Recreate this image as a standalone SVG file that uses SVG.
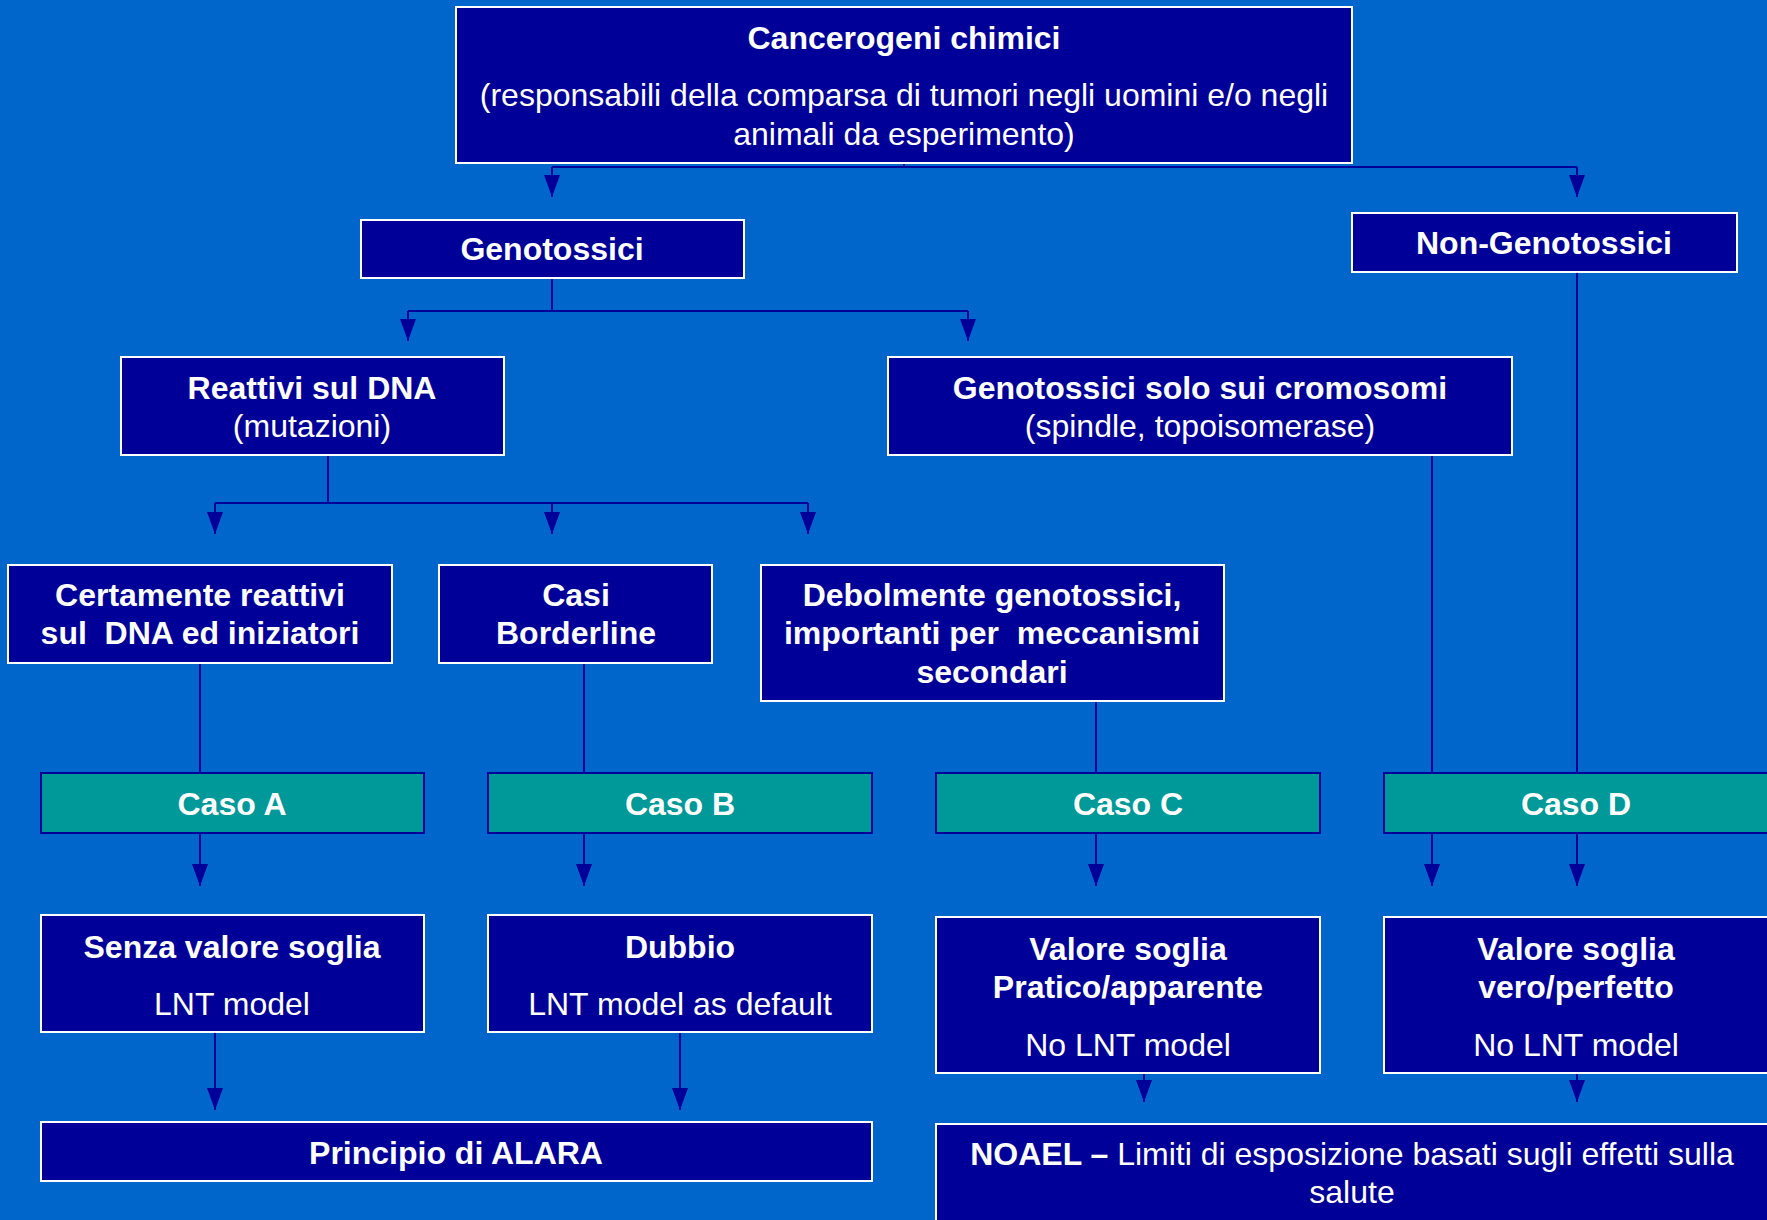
<svg xmlns="http://www.w3.org/2000/svg" width="1767" height="1220" viewBox="0 0 1767 1220">
<defs>
<marker id="ah" markerUnits="userSpaceOnUse" markerWidth="22" markerHeight="16" refX="22" refY="8" orient="auto"><path d="M0,0 L22,8 L0,16 z" fill="#000099"/></marker>
<style>
.bg{fill:#0066CC}
.box{fill:#000099;stroke:#FFFFFF;stroke-width:2}
.case{fill:#009999;stroke:#000099;stroke-width:2}
.t{font-family:"Liberation Sans",Arial,sans-serif;font-size:32px;fill:#FFFFFF;text-anchor:middle}
.b{font-weight:bold}
.c{fill:none;stroke:#000099;stroke-width:2}
.a{fill:none;stroke:#000099;stroke-width:2;marker-end:url(#ah)}
</style>
</defs>
<rect class="bg" x="0" y="0" width="1767" height="1220"/>
<g id="connectors">
<path class="c" d="M904,163 V167 M552,167 H1577"/>
<path class="a" d="M552,167 V197"/>
<path class="a" d="M1577,167 V197"/>
<path class="c" d="M552,278 V311 M408,311 H968"/>
<path class="a" d="M408,311 V341"/>
<path class="a" d="M968,311 V341"/>
<path class="c" d="M328,455 V503 M215,503 H808"/>
<path class="a" d="M215,503 V534"/>
<path class="a" d="M552,503 V534"/>
<path class="a" d="M808,503 V534"/>
<path class="c" d="M200,663 V773 M584,663 V773 M1096,701 V773 M1432,455 V773 M1577,272 V773"/>
<path class="a" d="M200,833 V886"/>
<path class="a" d="M584,833 V886"/>
<path class="a" d="M1096,833 V886"/>
<path class="a" d="M1432,833 V886"/>
<path class="a" d="M1577,833 V886"/>
<path class="a" d="M215,1032 V1110"/>
<path class="a" d="M680,1032 V1110"/>
<path class="a" d="M1144,1073 V1102"/>
<path class="a" d="M1577,1073 V1102"/>
</g>
<g id="cancerogeni">
<rect class="box" x="456" y="7" width="896" height="156"/>
<text class="t b" x="904" y="49">Cancerogeni chimici</text>
<text class="t" x="904" y="106">(responsabili della comparsa di tumori negli uomini e/o negli</text>
<text class="t" x="904" y="145">animali da esperimento)</text>
</g>
<g id="genotossici">
<rect class="box" x="361" y="220" width="383" height="58"/>
<text class="t b" x="552" y="260">Genotossici</text>
</g>
<g id="non-genotossici">
<rect class="box" x="1352" y="213" width="385" height="59"/>
<text class="t b" x="1544" y="254">Non-Genotossici</text>
</g>
<g id="reattivi">
<rect class="box" x="121" y="357" width="383" height="98"/>
<text class="t b" x="312" y="399">Reattivi sul DNA</text>
<text class="t" x="312" y="437">(mutazioni)</text>
</g>
<g id="cromosomi">
<rect class="box" x="888" y="357" width="624" height="98"/>
<text class="t b" x="1200" y="399">Genotossici solo sui cromosomi</text>
<text class="t" x="1200" y="437">(spindle, topoisomerase)</text>
</g>
<g id="certamente">
<rect class="box" x="8" y="565" width="384" height="98"/>
<text class="t b" x="200" y="606">Certamente reattivi</text>
<text class="t b" x="200" y="644" xml:space="preserve">sul  DNA ed iniziatori</text>
</g>
<g id="borderline">
<rect class="box" x="439" y="565" width="273" height="98"/>
<text class="t b" x="576" y="606">Casi</text>
<text class="t b" x="576" y="644">Borderline</text>
</g>
<g id="debolmente">
<rect class="box" x="761" y="565" width="463" height="136"/>
<text class="t b" x="992" y="606">Debolmente genotossici,</text>
<text class="t b" x="992" y="644" xml:space="preserve">importanti per  meccanismi</text>
<text class="t b" x="992" y="683">secondari</text>
</g>
<g id="caso-a">
<rect class="case" x="41" y="773" width="383" height="60"/>
<text class="t b" x="232" y="815">Caso A</text>
</g>
<g id="caso-b">
<rect class="case" x="488" y="773" width="384" height="60"/>
<text class="t b" x="680" y="815">Caso B</text>
</g>
<g id="caso-c">
<rect class="case" x="936" y="773" width="384" height="60"/>
<text class="t b" x="1128" y="815">Caso C</text>
</g>
<g id="caso-d">
<rect class="case" x="1384" y="773" width="390" height="60"/>
<text class="t b" x="1576" y="815">Caso D</text>
</g>
<g id="senza">
<rect class="box" x="41" y="915" width="383" height="117"/>
<text class="t b" x="232" y="958">Senza valore soglia</text>
<text class="t" x="232" y="1015">LNT model</text>
</g>
<g id="dubbio">
<rect class="box" x="488" y="915" width="384" height="117"/>
<text class="t b" x="680" y="958">Dubbio</text>
<text class="t" x="680" y="1015">LNT model as default</text>
</g>
<g id="pratico">
<rect class="box" x="936" y="917" width="384" height="156"/>
<text class="t b" x="1128" y="960">Valore soglia</text>
<text class="t b" x="1128" y="998">Pratico/apparente</text>
<text class="t" x="1128" y="1056">No LNT model</text>
</g>
<g id="vero">
<rect class="box" x="1384" y="917" width="390" height="156"/>
<text class="t b" x="1576" y="960">Valore soglia</text>
<text class="t b" x="1576" y="998">vero/perfetto</text>
<text class="t" x="1576" y="1056">No LNT model</text>
</g>
<g id="alara">
<rect class="box" x="41" y="1122" width="831" height="59"/>
<text class="t b" x="456" y="1164">Principio di ALARA</text>
</g>
<g id="noael">
<rect class="box" x="936" y="1124" width="840" height="110"/>
<text class="t" x="1352" y="1165"><tspan class="b">NOAEL – </tspan>Limiti di esposizione basati sugli effetti sulla</text>
<text class="t" x="1352" y="1203">salute</text>
</g>
</svg>
